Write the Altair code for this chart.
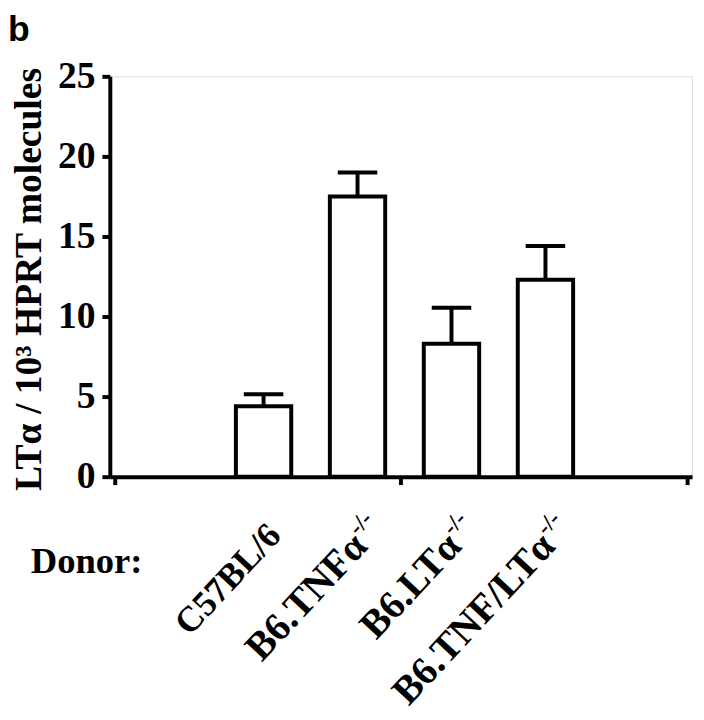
import altair as alt
import pandas as pd

# ---- data ----
donors = ["C57BL/6", "B6.TNFα", "B6.LTα", "B6.TNF/LTα"]
superscripts = ["", "-/-", "-/-", "-/-"]
means = [4.4, 17.5, 8.3, 12.3]
errors = [0.75, 1.5, 2.25, 2.1]
y_ticks = [0, 5, 10, 15, 20, 25]
x_ticks = [0, 3, 6]

df = pd.DataFrame({
    "donor": donors,
    "sup": superscripts,
    "mean": means,
    "err": errors,
    "idx": list(range(len(donors))),
})

SERIF = "Liberation Serif"

xscale = alt.Scale(domain=[0, 6], nice=False, zero=False)
yscale = alt.Scale(domain=[0, 25], nice=False)

base = alt.Chart(df).transform_calculate(
    pos="1.56 + 0.985 * datum.idx",
    top="datum.mean + datum.err",
)

xaxis = alt.Axis(values=x_ticks, labels=False, title=None, grid=False,
                 domainColor="black", domainWidth=4, tickColor="black",
                 tickWidth=4, tickSize=8, orient="bottom")
yaxis = alt.Axis(values=y_ticks, grid=False, domainColor="black", domainWidth=4,
                 tickColor="black", tickWidth=4, tickSize=8, labelPadding=7,
                 labelFont=SERIF, labelFontWeight="bold", labelFontSize=38,
                 labelColor="black", labelBaseline="middle",
                 title="LTα / 10³ HPRT molecules", titleFont=SERIF,
                 titleFontWeight="bold", titleFontSize=38, titleColor="black",
                 titleX=-70, titleY=205, titleAngle=270, titleAlign="center",
                 titleBaseline="alphabetic")

bars = base.mark_bar(orient="vertical", size=56, fill="white", stroke="black",
                     strokeWidth=4).encode(
    x=alt.X("pos:Q", scale=xscale, axis=xaxis),
    y=alt.Y("mean:Q", scale=yscale, axis=yaxis),
)

stems = base.mark_rule(color="black", strokeWidth=4).encode(
    x=alt.X("pos:Q", scale=xscale),
    y=alt.Y("mean:Q", scale=yscale),
    y2="top:Q",
)

caps = base.mark_tick(orient="horizontal", size=40, thickness=4,
                      color="black", opacity=1).encode(
    x=alt.X("pos:Q", scale=xscale),
    y=alt.Y("top:Q", scale=yscale),
)

# wild-type label (no superscript)
wt_label = base.transform_filter("datum.sup == ''").transform_calculate(
    lab="datum.pos + 0.2").mark_text(
    font=SERIF, fontWeight="bold", fontSize=36, color="black",
    align="right", baseline="alphabetic", angle=313).encode(
    x=alt.X("lab:Q", scale=xscale),
    y=alt.value(466),
    text="donor:N",
)

ko = base.transform_filter("datum.sup != ''").transform_calculate(
    lab="datum.pos + 0.12")

ko_label = ko.mark_text(
    font=SERIF, fontWeight="bold", fontSize=40, color="black",
    align="right", baseline="alphabetic", angle=313).encode(
    x=alt.X("lab:Q", scale=xscale),
    y=alt.value(477),
    text="donor:N",
)

ko_sup = ko.mark_text(
    font=SERIF, fontWeight="bold", fontSize=24, color="black",
    align="left", baseline="alphabetic", angle=313, dx=1, dy=-16).encode(
    x=alt.X("lab:Q", scale=xscale),
    y=alt.value(477),
    text="sup:N",
)

donor_txt = alt.Chart(pd.DataFrame({"t": ["Donor:"]})).mark_text(
    font=SERIF, fontWeight="bold", fontSize=37, color="black",
    align="left", baseline="alphabetic").encode(
    x=alt.value(-80), y=alt.value(502), text="t:N")

panel = alt.Chart(pd.DataFrame({"t": ["b"]})).mark_text(
    font="Liberation Sans", fontWeight="bold", fontSize=36, color="black",
    align="left", baseline="alphabetic").encode(
    x=alt.value(-103), y=alt.value(-36), text="t:N")

chart = alt.layer(bars, stems, caps, wt_label, ko_label, ko_sup, donor_txt,
                  panel).properties(
    width=589, height=405,
    autosize=alt.AutoSizeParams(type="none"),
    padding={"left": 103, "top": 65, "right": 4, "bottom": 240},
).configure_view(stroke=None).configure(background="white")

chart.save("out.html", embed_options={"renderer": "svg", "actions": False})
